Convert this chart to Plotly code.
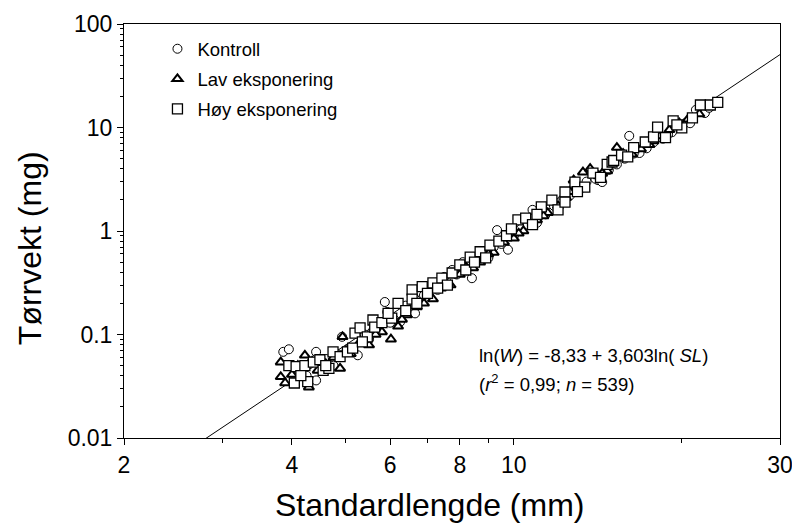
import plotly.graph_objects as go
import numpy as np

# --- data ---
kontroll_x = [3.86, 3.95, 4.1, 4.25, 4.42, 4.42, 4.6, 4.75, 4.92, 5.05, 5.25, 5.4, 5.6, 5.87, 5.93,
              6.1, 6.25, 6.4, 6.65, 6.65, 6.9, 7.1, 7.3, 7.5, 7.75, 7.9, 8.1, 8.41, 8.6, 8.8, 9.0,
              9.33, 9.5, 9.76, 10.0, 10.3, 10.8, 11.0, 11.4, 11.8, 12.2, 12.6, 13.0, 13.5, 14.15,
              14.4, 14.8, 15.3, 15.8, 16.1, 16.8, 17.3, 17.8, 18.5, 19.2, 19.8, 20.7, 21.2, 22.0, 22.4,
              4.3, 4.85, 5.5, 6.0, 7.0, 8.3, 9.2, 10.6, 12.0, 13.2, 14.0, 16.4, 18.9]
kontroll_y = [0.068, 0.072, 0.045, 0.04, 0.068, 0.036, 0.058, 0.05, 0.095, 0.07, 0.063, 0.1, 0.11, 0.206, 0.165,
              0.14, 0.132, 0.19, 0.16, 0.22, 0.24, 0.3, 0.27, 0.36, 0.42, 0.38, 0.5, 0.35, 0.52, 0.6, 0.55,
              1.02, 0.75, 0.66, 0.9, 1.05, 1.6, 1.2, 1.45, 1.75, 2.0, 2.2, 2.55, 3.0, 3.1,
              2.97, 3.9, 4.4, 5.0, 8.3, 5.67, 6.3, 7.2, 7.8, 9.0, 10.5, 11.0, 14.8, 13.8, 15.5,
              0.052, 0.064, 0.09, 0.13, 0.27, 0.46, 0.7, 1.15, 1.85, 2.6, 3.2, 5.6, 8.6]

lav_x = [3.82, 3.82, 3.89, 4.0, 4.1, 4.22, 4.29, 4.45, 4.6, 4.75, 4.88, 4.93, 5.1, 5.3, 5.5, 5.8,
         6.02, 6.2, 6.43, 6.7, 6.9, 7.16, 7.4, 7.7, 8.0, 8.2, 8.45, 8.7, 8.95, 9.2, 9.6, 10.0, 10.4,
         11.0, 11.5, 12.0, 12.4, 12.8, 13.3, 13.7, 14.2, 14.7, 15.3, 15.7, 16.3, 16.9, 17.5, 18.2,
         19.0, 19.8, 20.5, 21.5,
         4.35, 5.0, 5.65, 6.3, 7.5, 9.0, 10.2, 11.3, 12.6, 14.4, 17.8]
lav_y = [0.054, 0.039, 0.034, 0.041, 0.05, 0.063, 0.031, 0.045, 0.052, 0.06, 0.047, 0.095, 0.065, 0.085, 0.079, 0.106,
         0.09, 0.12, 0.154, 0.184, 0.2, 0.22, 0.28, 0.3, 0.38, 0.45, 0.44, 0.5, 0.63, 0.62, 0.78, 0.85, 1.0,
         1.28, 1.5, 1.75, 2.1, 3.1, 3.7, 4.0, 3.4, 3.8, 6.4, 5.6, 5.5, 6.2, 6.8, 8.3,
         9.5, 11.0, 12.0, 13.5,
         0.055, 0.07, 0.1, 0.14, 0.32, 0.6, 0.95, 1.4, 2.4, 3.6, 7.4]

hoy_x = [3.95, 4.04, 4.07, 4.22, 4.27, 4.37, 4.49, 4.55, 4.66, 4.74, 4.88, 5.03, 5.14, 5.19, 5.3, 5.46,
         5.59, 5.63, 5.8, 6.04, 6.2, 6.4, 6.57, 6.57, 6.85, 7.0, 7.16, 7.43, 7.6, 7.75, 8.0, 8.2, 8.35,
         8.7, 8.9, 9.06, 9.4, 9.7, 10.17, 10.5, 10.8, 11.2, 11.7, 12.0, 12.35, 12.35, 12.87, 13.4,
         13.86, 14.3, 14.7, 15.0, 15.1, 15.6, 16.4, 17.2, 17.8, 18.1, 18.7, 19.3, 20.0, 20.9, 21.6,
         22.5, 23.2,
         4.15, 4.6, 5.35, 5.95, 6.7, 7.3, 8.5, 9.9, 11.0, 13.0, 16.0, 19.6]
hoy_y = [0.05, 0.034, 0.049, 0.05, 0.035, 0.054, 0.057, 0.045, 0.047, 0.068, 0.061, 0.068, 0.074, 0.103, 0.116, 0.095,
         0.138, 0.118, 0.13, 0.144, 0.2, 0.17, 0.27, 0.22, 0.29, 0.25, 0.315, 0.35, 0.3, 0.393, 0.47, 0.42, 0.56,
         0.63, 0.55, 0.73, 0.8, 0.9, 1.28, 1.33, 1.15, 1.71, 1.99, 1.6, 2.38, 1.9, 2.97, 2.65,
         3.63, 3.3, 4.4, 4.64, 4.8, 5.42, 6.4, 7.24, 8.1, 10.1, 8.0, 11.6, 9.9, 12.4, 16.5,
         16.5, 17.5,
         0.04, 0.05, 0.085, 0.16, 0.2, 0.28, 0.5, 1.05, 1.45, 2.4, 5.2, 10.6]

# regression ln(W) = a + b ln(SL)
reg_a = -8.33
reg_b = 3.603
reg_x = [2, 30]

x_ticks = [2, 4, 6, 8, 10, 30]
x_minor = [3, 5, 7, 9, 20]
y_ticks = [0.01, 0.1, 1, 10, 100]
y_tick_text = ["0.01", "0.1", "1", "10", "100"]
y_minor = [m * 10.0 ** e for e in range(-2, 2) for m in range(2, 10)]

x_title = "Standardlengde (mm)"
y_title = "Tørrvekt (mg)"

reg_y = [float(np.exp(reg_a + reg_b * np.log(v))) for v in reg_x]

FONT = "Liberation Sans, Arial, sans-serif"

fig = go.Figure()
fig.add_trace(go.Scatter(x=reg_x, y=reg_y, mode="lines", line=dict(color="black", width=1),
                         showlegend=False, hoverinfo="skip"))
fig.add_trace(go.Scatter(x=kontroll_x, y=kontroll_y, mode="markers", name="Kontroll", legendgroup="a",
                         marker=dict(symbol="circle", size=9, color="white", line=dict(color="black", width=1))))
fig.add_trace(go.Scatter(x=lav_x, y=lav_y, mode="markers", name="Lav eksponering", legendgroup="b",
                         marker=dict(symbol="triangle-up", size=9, color="white", line=dict(color="black", width=2))))
fig.add_trace(go.Scatter(x=hoy_x, y=hoy_y, mode="markers", name="Høy eksponering", legendgroup="c",
                         marker=dict(symbol="square", size=10, color="white", line=dict(color="black", width=1.3))))

fig.update_layout(
    width=792, height=527,
    margin=dict(l=124, r=12, t=24, b=89),
    paper_bgcolor="white", plot_bgcolor="white",
    font=dict(family=FONT, color="black"),
    legend=dict(x=0.051, y=0.985, xanchor="left", yanchor="top", bgcolor="rgba(0,0,0,0)",
                font=dict(size=18.5, family=FONT), tracegroupgap=3, itemwidth=30),
    annotations=[
        dict(x=0.538, y=0.2, xref="paper", yref="paper", xanchor="left", yanchor="middle", showarrow=False,
             text="ln(<i>W</i>) = -8,33 + 3,603ln( <i>SL</i>)", font=dict(size=18.5, family=FONT)),
        dict(x=0.538, y=0.133, xref="paper", yref="paper", xanchor="left", yanchor="middle", showarrow=False,
             text="(<i>r</i><sup>2</sup> = 0,99; <i>n</i> = 539)", font=dict(size=18.5, family=FONT)),
        dict(x=0.465, y=-0.162, xref="paper", yref="paper", xanchor="center", yanchor="middle",
             showarrow=False, text=x_title, font=dict(size=32, family=FONT)),
        dict(x=-0.143, y=0.459, xref="paper", yref="paper", xanchor="center", yanchor="middle",
             showarrow=False, text=y_title, textangle=-90, font=dict(size=32, family=FONT)),
    ],
)
fig.update_xaxes(type="log", range=[np.log10(2), np.log10(30)], tickvals=x_ticks, automargin=False,
                 ticktext=[str(v) for v in x_ticks], ticks="outside", ticklen=6, tickwidth=1,
                 ticklabeloverflow="allow",
                 tickcolor="black", showline=True, linecolor="black", linewidth=1, mirror=True,
                 showgrid=False, zeroline=False, tickfont=dict(size=23, family=FONT),
                 minor=dict(tickvals=x_minor, ticks="outside", ticklen=4, tickcolor="black", showgrid=False))
fig.update_yaxes(type="log", range=[-2, 2], tickvals=y_ticks, ticktext=y_tick_text, automargin=False,
                 ticks="outside", ticklen=6, tickwidth=1, tickcolor="black", showline=True,
                 ticklabeloverflow="allow",
                 linecolor="black", linewidth=1, mirror=True, showgrid=False, zeroline=False,
                 tickfont=dict(size=23, family=FONT),
                 minor=dict(tickvals=y_minor, ticks="outside", ticklen=3, tickcolor="black", showgrid=False))

fig.write_html("out.html")
